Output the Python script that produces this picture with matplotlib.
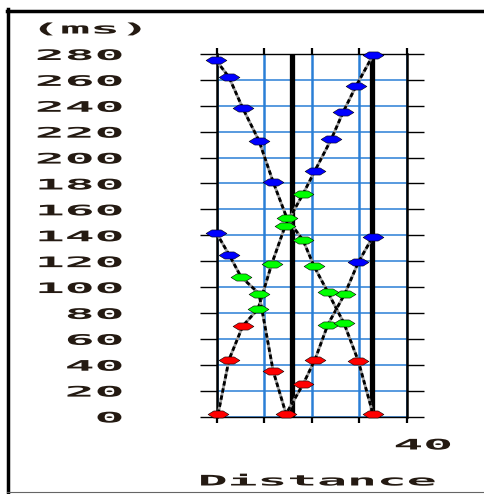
import matplotlib
matplotlib.use("Agg")
import matplotlib.pyplot as plt
from matplotlib import patheffects
from matplotlib.lines import Line2D
from matplotlib.path import Path
from matplotlib.transforms import Affine2D

# geophone distances and travel times (ms) for the three shots
dist_a = [0.3, 2.6, 5.5, 8.7, 11.6, 14.4, 18.2, 20.7, 24.1, 26.6, 29.3, 32.9]
time_a = [2, 44, 70, 83, 118, 147, 172, 190, 214, 235, 255, 279]
col_a = ["r", "r", "r", "g", "g", "g", "g", "b", "b", "b", "b", "b"]

dist_b = [-0.1, 2.6, 5.1, 8.9, 11.9, 14.6, 18.2, 20.7, 23.4, 27.0, 29.8, 32.9]
time_b = [142, 125, 108, 95, 35, 2, 25, 44, 71, 95, 119, 139]
col_b = ["b", "b", "g", "g", "r", "r", "r", "r", "g", "g", "b", "b"]

dist_c = [-0.1, 2.6, 5.5, 8.9, 11.9, 14.8, 18.2, 20.5, 23.4, 26.8, 29.8, 32.9]
time_c = [275, 262, 238, 213, 181, 153, 136, 116, 96, 72, 43, 2]
col_c = ["b", "b", "b", "b", "b", "g", "g", "g", "g", "g", "r", "r"]

x_ticks = [0, 10, 20, 30, 40]
y_ticks = list(range(0, 281, 20))
y_labels = [str(v) for v in y_ticks]
shot_lines = [15.9, 32.8]

colors = {"r": "#ff0000", "g": "#00ff00", "b": "#0000ff"}
grid_blue = "#2a7fd6"
txt_col = "#241a12"


class Stretch(patheffects.AbstractPathEffect):
    # widen glyphs horizontally around a fixed point of the text
    def __init__(self, sx, anchor=1.0):
        super().__init__()
        self.sx = sx
        self.anchor = anchor

    def draw_path(self, renderer, gc, tpath, affine, rgbFace=None):
        ext = tpath.get_extents()
        x0 = ext.x0 + self.anchor * ext.width
        st = Affine2D().translate(-x0, 0).scale(self.sx, 1).translate(x0, 0)
        renderer.draw_path(gc, tpath, st + affine, rgbFace)


SX = 3.4
font = dict(family="DejaVu Sans Mono", size=10.5, weight="bold", color=txt_col)

# flat diamond marker
mk = Path([(-1, 0), (-0.45, 0.34), (0.45, 0.34), (1, 0), (0.45, -0.34),
           (-0.45, -0.34), (-1, 0)],
          [Path.MOVETO] + [Path.LINETO] * 5 + [Path.CLOSEPOLY])

W, H = 485, 494
fig = plt.figure(figsize=(W / 100, H / 100), dpi=100)
ax = fig.add_axes([216.7 / W, 1 - 416.5 / H, 190 / W, 362.5 / H])
ax.set_xlim(0, 40)
ax.set_ylim(0, 280)

ax.set_axisbelow(True)
ax.xaxis.grid(True, color=grid_blue, lw=1.8)
ax.yaxis.grid(True, color=grid_blue, lw=1.1)

for sp in ["left", "right"]:
    ax.spines[sp].set_linewidth(1.8)
for sp in ["top", "bottom"]:
    ax.spines[sp].set_linewidth(1.0)

ax.set_xticks(x_ticks)
ax.set_xticklabels([])
ax.set_yticks(y_ticks)
ax.set_yticklabels(y_labels, fontdict=font)
ax.tick_params(axis="y", left=True, right=True, length=12, width=1.0, pad=56)
ax.tick_params(axis="x", top=True, bottom=True, length=4, width=1.6)
for lab in ax.get_yticklabels():
    lab.set_path_effects([Stretch(SX, 1.0)])

for xv in shot_lines:
    ax.axvline(xv, color="black", lw=3.8, zorder=2)

for d, t, c in [(dist_a, time_a, col_a), (dist_b, time_b, col_b), (dist_c, time_c, col_c)]:
    ax.plot(d, t, color="#a0a0a0", lw=2.0, zorder=3)
    ax.plot(d, t, color="black", lw=2.0, dashes=(1.6, 1.0), zorder=3)
    for xi, yi, ci in zip(d, t, c):
        ax.plot(xi, yi, marker=mk, ms=15, mfc=colors[ci], mec="black",
                mew=0.4, ls="none", zorder=4, clip_on=False)

# axis titles
t = fig.text(37 / W, 1 - 29 / H, "(ms)", ha="left", va="center", **font)
t.set_path_effects([Stretch(SX, 0.0)])
t = fig.text(423 / W, 1 - 445 / H, "40", ha="center", va="center", **font)
t.set_path_effects([Stretch(SX, 0.5)])
ax.set_xlabel("Distance", fontdict=font, ha="center", va="center")
ax.xaxis.set_label_coords((317.5 - 216.7) / 190, (416.5 - 481) / 362.5)
ax.xaxis.label.set_path_effects([Stretch(SX, 0.5)])

# outer frame
fig.add_artist(Line2D([8.5 / W, 8.5 / W], [1 - 9 / H, 1 - 492 / H], color="black", lw=2.5))
fig.add_artist(Line2D([7 / W, 1], [1 - 11 / H, 1 - 11 / H], color="black", lw=2.5))
fig.add_artist(Line2D([7 / W, 1], [1 - 492 / H, 1 - 492 / H], color="#666666", lw=0.8))

fig.savefig("out.png", dpi=100)
